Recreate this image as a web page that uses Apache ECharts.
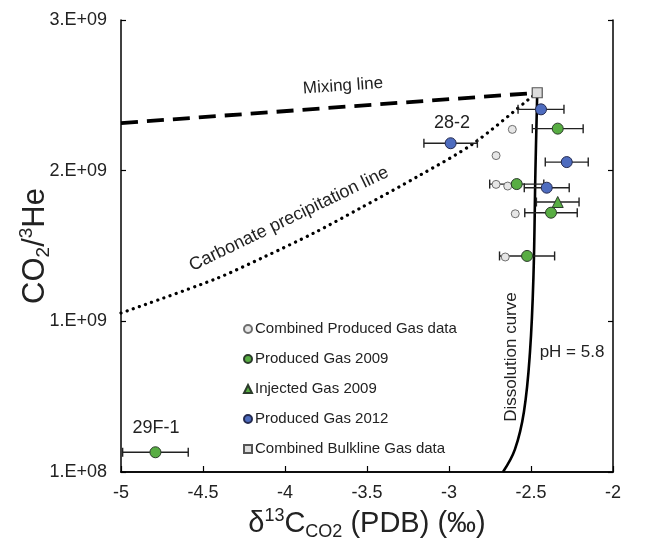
<!DOCTYPE html>
<html>
<head>
<meta charset="utf-8">
<script src="https://cdn.jsdelivr.net/npm/echarts@6/dist/echarts.min.js"></script>
<style>html,body{margin:0;padding:0;background:#fff}#c{width:652px;height:543px}</style>
</head>
<body>
<div id="c"></div>
<script>
// ---- data (x: δ13C ‰, y: CO2/3He) ----
const yTickLabels = ['1.E+08', '1.E+09', '2.E+09', '3.E+09'];
const combinedProduced = [[-2.614, 2.274e9], [-2.713, 2.10e9], [-2.713, 1.909e9], [-2.642, 1.898e9], [-2.596, 1.714e9], [-2.657, 1.427e9]];
const produced2009 = [[-2.337, 2.279e9], [-2.587, 1.911e9], [-2.378, 1.721e9], [-2.524, 1.434e9], [-4.79, 0.131e9]];
const produced2009Err = [0.155, 0.165, 0.16, 0.168, 0.2];
const injected2009 = [[-2.337, 1.792e9]];
const injected2009Err = [0.13];
const produced2012 = [[-2.439, 2.407e9], [-2.99, 2.182e9], [-2.282, 2.057e9], [-2.404, 1.887e9]];
const produced2012Err = [0.14, 0.163, 0.131, 0.137];
const bulkline = [[-2.462, 2.517e9]];
const mixingLine = [[-5, 2.316e9], [-2.462, 2.517e9]];
const carbonateLine = [[-5, 1.055e9], [-4.427, 1.28e9], [-4.122, 1.43e9], [-3.817, 1.59e9], [-3.543, 1.75e9], [-3.177, 1.97e9], [-2.852, 2.18e9], [-2.506, 2.48e9], [-2.462, 2.517e9]];
const dissolutionCurve = [[-2.671, 0], [-2.598, 0.15e9], [-2.543, 0.4e9], [-2.506, 0.8e9], [-2.485, 1.3e9], [-2.473, 2.0e9], [-2.462, 2.517e9]];

const FONT = 'Liberation Sans, Arial, sans-serif';
const TXT = '#222';

function withErr(points, errs) { return points.map((p, i) => [p[0], p[1], errs[i]]); }
const errData = [].concat(withErr(produced2009, produced2009Err), withErr(injected2009, injected2009Err), withErr(produced2012, produced2012Err));

const chart = echarts.init(document.getElementById('c'), null, {renderer: 'canvas'});
const option = {
  backgroundColor: '#fff',
  animation: false,
  grid: {left: 121, top: 20, right: 39, bottom: 71, containLabel: false, outerBoundsMode: 'none'},
  legend: {
    orient: 'vertical', left: 243, top: 321, padding: 0, itemWidth: 8, itemHeight: 8, itemGap: 14,
    data: ['Combined Produced Gas data', 'Produced Gas 2009', 'Injected Gas 2009', 'Produced Gas 2012', 'Combined Bulkline Gas data'],
    textStyle: {fontFamily: FONT, fontSize: 15, color: TXT, lineHeight: 16, padding: [0, 0, 0, -2]}
  },
  xAxis: [{
    type: 'value', min: -5, max: -2, interval: 0.5,
    axisLine: {lineStyle: {color: '#000', width: 1.5}},
    axisTick: {inside: true, length: 6, lineStyle: {color: '#000', width: 1.2}},
    axisLabel: {fontFamily: FONT, fontSize: 18, color: TXT, margin: 12},
    splitLine: {show: false},
    name: '{a|δ}{sup|13}{a|C}{sub|CO2}{a| (PDB) (‰)}',
    nameLocation: 'middle', nameGap: 35,
    nameTextStyle: {
      rich: {
        a: {fontFamily: FONT, fontSize: 29, color: TXT, lineHeight: 34},
        sup: {fontFamily: FONT, fontSize: 18, color: TXT, verticalAlign: 'top'},
        sub: {fontFamily: FONT, fontSize: 18, color: TXT, verticalAlign: 'bottom'}
      }
    }
  }, {
    type: 'value', position: 'top', min: -5, max: -2,
    axisLine: {show: true, lineStyle: {color: '#000', width: 1.5}},
    axisTick: {show: false}, axisLabel: {show: false}, splitLine: {show: false}
  }],
  yAxis: [{
    type: 'value', min: 0, max: 3e9, interval: 1e9,
    axisLine: {show: true, lineStyle: {color: '#000', width: 1.5}},
    axisTick: {show: true, inside: true, length: 5, lineStyle: {color: '#000', width: 1.2}},
    axisLabel: {fontFamily: FONT, fontSize: 18, color: TXT, margin: 14, formatter: v => yTickLabels[Math.round(v / 1e9)]},
    splitLine: {show: false},
    name: '{a|CO}{sub|2}{a|/}{sup|3}{a|He}',
    nameLocation: 'middle', nameRotate: 90, nameGap: 68, nameMoveOverlap: false,
    nameTextStyle: {
      rich: {
        a: {fontFamily: FONT, fontSize: 31, color: TXT, lineHeight: 36},
        sup: {fontFamily: FONT, fontSize: 19, color: TXT, verticalAlign: 'top'},
        sub: {fontFamily: FONT, fontSize: 19, color: TXT, verticalAlign: 'bottom'}
      }
    }
  }, {
    type: 'value', position: 'right', min: 0, max: 3e9, interval: 1e9,
    axisLine: {show: true, lineStyle: {color: '#000', width: 1.5}},
    axisTick: {show: true, inside: true, length: 5, lineStyle: {color: '#000', width: 1.2}},
    axisLabel: {show: false}, splitLine: {show: false}
  }],
  series: [
    {
      name: 'Mixing line', type: 'line', data: mixingLine, showSymbol: false, silent: true, z: 2,
      lineStyle: {color: '#000', width: 3.8, type: [17, 9]}
    },
    {
      name: 'Carbonate precipitation line', type: 'line', data: carbonateLine, showSymbol: false, smooth: 0.3, silent: true, z: 2,
      lineStyle: {color: '#000', width: 3.2, type: [0.1, 6.4], cap: 'round'}
    },
    {
      name: 'Dissolution curve', type: 'line', data: dissolutionCurve, showSymbol: false, smooth: 0.4, silent: true, z: 2,
      lineStyle: {color: '#000', width: 2.6}
    },
    {
      name: 'errors', type: 'custom', data: errData, z: 3, silent: true,
      encode: {x: 0, y: 1},
      renderItem: function (params, api) {
        const x = api.value(0), y = api.value(1), e = api.value(2);
        const a = api.coord([x - e, y]), b = api.coord([x + e, y]);
        const h = 4.5;
        const st = {stroke: '#222', lineWidth: 1.4};
        return {type: 'group', children: [
          {type: 'line', shape: {x1: a[0], y1: a[1], x2: b[0], y2: b[1]}, style: st},
          {type: 'line', shape: {x1: a[0], y1: a[1] - h, x2: a[0], y2: a[1] + h}, style: st},
          {type: 'line', shape: {x1: b[0], y1: b[1] - h, x2: b[0], y2: b[1] + h}, style: st}
        ]};
      }
    },
    {
      name: 'Combined Produced Gas data', type: 'scatter', data: combinedProduced, symbol: 'circle', symbolSize: 8, z: 4,
      itemStyle: {color: '#e6e6e6', borderColor: '#6e6e6e', borderWidth: 1, opacity: 1}
    },
    {
      name: 'Produced Gas 2009', type: 'scatter', data: produced2009, symbol: 'circle', symbolSize: 11, z: 4,
      itemStyle: {color: '#58ad43', borderColor: '#2b3b2a', borderWidth: 1, opacity: 1}
    },
    {
      name: 'Injected Gas 2009', type: 'scatter', data: injected2009, symbol: 'triangle', symbolSize: 11, z: 4,
      itemStyle: {color: '#58ad43', borderColor: '#2b3b2a', borderWidth: 1, opacity: 1}
    },
    {
      name: 'Produced Gas 2012', type: 'scatter', data: produced2012, symbol: 'circle', symbolSize: 11, z: 4,
      itemStyle: {color: '#4e6cbf', borderColor: '#252b50', borderWidth: 1, opacity: 1}
    },
    {
      name: 'Combined Bulkline Gas data', type: 'scatter', data: bulkline, symbol: 'rect', symbolSize: 10, z: 4,
      itemStyle: {color: '#dcdcdc', borderColor: '#555', borderWidth: 1.2, opacity: 1}
    }
  ],
  graphic: [
    {type: 'text', x: 343, y: 86, rotation: 0.07, z: 10, style: {text: 'Mixing line', font: '17px ' + FONT, fill: TXT, align: 'center', verticalAlign: 'middle'}},
    {type: 'text', x: 289, y: 219, rotation: 0.45, z: 10, style: {text: 'Carbonate precipitation line', font: '18px ' + FONT, fill: TXT, align: 'center', verticalAlign: 'middle'}},
    {type: 'text', x: 511, y: 357, rotation: Math.PI / 2, z: 10, style: {text: 'Dissolution curve', font: '17px ' + FONT, fill: TXT, align: 'center', verticalAlign: 'middle'}},
    {type: 'text', x: 572, y: 352, z: 10, style: {text: 'pH = 5.8', font: '17px ' + FONT, fill: TXT, align: 'center', verticalAlign: 'middle'}},
    {type: 'text', x: 452, y: 123, z: 10, style: {text: '28-2', font: '18px ' + FONT, fill: TXT, align: 'center', verticalAlign: 'middle'}},
    {type: 'text', x: 156, y: 428, z: 10, style: {text: '29F-1', font: '18px ' + FONT, fill: TXT, align: 'center', verticalAlign: 'middle'}}
  ]
};
chart.setOption(option);
</script>
</body>
</html>
